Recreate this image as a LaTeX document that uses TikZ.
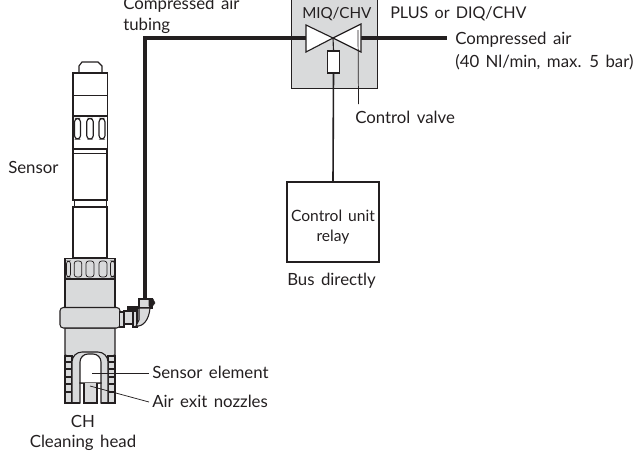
\documentclass[tikz,border=0pt]{standalone}
\usepackage{fontspec}
\setmainfont[WordSpace=1.5]{Lato}
\definecolor{boxgray}{HTML}{D9DADB}
\definecolor{linek}{HTML}{231F20}
\tikzset{
  px/.style={x=0.75pt,y=-0.75pt,line join=miter},
  lab/.style={inner sep=0pt,anchor=base west,font=\fontsize{12.6}{15}\selectfont,text=linek},
  caps lab/.style={lab,font=\fontsize{12.1}{15}\selectfont},
  clab/.style={lab,anchor=base},
  thin line/.style={draw=linek,line width=0.55pt},
  med line/.style={draw=linek,line width=0.85pt},
  pipe/.style={draw=linek,line width=2.4pt},
  gray part/.style={fill=boxgray,draw=linek,line width=0.8pt},
}
\begin{document}
\begin{tikzpicture}[px]
\useasboundingbox (0,0) rectangle (639,454);
\clip (0,0) rectangle (639,454);
% control box
\node[draw=linek,fill=boxgray,line width=0.85pt,minimum width=64.5pt,minimum height=68pt,inner sep=0pt,anchor=north west] (box) at (291,-3) {};
% coordinates
\coordinate (vc) at (333,38);
\coordinate (airend) at (447,38);
\coordinate (vr) at (361,38);
\coordinate (vl) at (306,38);
\coordinate (tubetop) at (145,38);
\coordinate (tubeend) at (145,299);
% pipes
\draw[pipe,line cap=butt] (vl) -- (tubetop) -- (tubeend);
\draw[pipe] (vr) -- (airend);
% valve
\draw[med line,fill=white] (306,25) -- (vc) -- (306,52) -- cycle;
\draw[med line,fill=white] (361,24) -- (vc) -- (361,52) -- cycle;
\node[draw=linek,fill=white,line width=0.85pt,minimum width=9.6pt,minimum height=16.5pt,inner sep=0pt] (sol) at (333.5,62) {};
\draw[med line] (vc) -- (sol.north);
% control unit
\node[draw=linek,line width=0.85pt,minimum width=69pt,minimum height=60pt,inner sep=0pt,align=center,font=\fontsize{11.7}{15}\selectfont,text=linek] (cu) at (333,222) {\rule{0pt}{15.5pt}Control unit\\relay};
\draw[draw=linek,line width=1.2pt] (sol.south) -- (cu.north);
% leader control valve
\coordinate (cvt) at (358,30);
\node[lab] (cvl) at (355,123) {Control valve};
\draw[thin line] (cvt) -- (358.5,104);
% top labels
\node[lab] (ca) at (123,9) {Compressed air};
\node[lab] (tub) at (123,30) {tubing};
\node[lab,font=\fontsize{11.4}{15}\selectfont] (miq) at (302,18) {MIQ/CHV};
\node[caps lab] (plus) at (390,18) {PLUS or DIQ/CHV};
\node[lab] (air1) at (455,44) {Compressed air};
\node[lab] (air2) at (455,67) {(40 Nl/min, max. 5 bar)};
\node[lab] (bus) at (287,285) {Bus directly};
\node[lab] (sen) at (8,173) {Sensor};
\node[lab] (se) at (152,378) {Sensor element};
\node[lab] (ae) at (152,407) {Air exit nozzles};
\node[clab] (ch) at (83,427) {CH};
\node[clab] (chh) at (83,447) {Cleaning head};
% sensor upper
\draw[med line,fill=white] (79,73) -- (79,66) -- (82,62) -- (98,62) -- (102,66) -- (102,73) -- cycle;
\draw[med line,fill=white] (73,73) rectangle (107.5,116);
\draw[thin line] (73,95.5) -- (107.5,95.5);
\draw[med line] (73,116) rectangle (107.5,149);
\draw[draw=linek,line width=1.1pt] (73,116.5) -- (107.5,116.5);
\foreach \x/\w in {77.5/3,90/3.3,102/3}{
  \draw[med line,rounded corners=2.5pt] (\x-\w,118.5) rectangle (\x+\w,139);
}
\draw[med line] (73,149.5) rectangle (107,153.5);
\draw[med line] (73,153.5) rectangle (107,200);
\draw[med line] (74.5,200) rectangle (106.5,207);
\draw[med line] (73,207) rectangle (107,258);
% sensor lower
\draw[gray part] (65,279) rectangle (115,308);
\draw[gray part] (65,258.5) rectangle (115,279);
\foreach \x/\w in {68.5/2,78/3.8,90/4,103/4,112.5/2}{
  \draw[thin line,rounded corners=2pt] (\x-\w,261) rectangle (\x+\w,277);
}
\draw[draw=linek,line width=1.5pt] (65,279) -- (115,279);
% lower body
\draw[gray part] (65,328) -- (65,355) -- (72,357) -- (108,357) -- (115,355) -- (115,328) -- cycle;
% legs
\foreach \xa/\xb in {65/72,108/115}{
  \draw[med line,fill=boxgray] (\xa,356) rectangle (\xb,403);
  \foreach \y in {362,369,377,384,392}{
    \draw[med line] (\xa,\y) -- (\xb,\y);
  }
}
\draw[draw=linek,fill=boxgray,line width=0.8pt] (72,403) -- (72,362) arc[start angle=180,end angle=270,radius=10] -- (98,352) arc[start angle=270,end angle=360,radius=10] -- (108,403) -- (101,403) -- (101,383) -- (80,383) -- (80,403) -- cycle;
\draw[draw=linek,fill=white,line width=0.85pt] (80,383) -- (80,362) arc[start angle=180,end angle=270,radius=8] -- (93,354) arc[start angle=270,end angle=360,radius=8] -- (101,383) -- cycle;
\draw[gray part] (84,383) -- (84,403) -- (97,403) -- (97,383);
\foreach \xa/\xb in {65/80,84/97,101/115}{
  \draw[draw=linek,line width=1.3pt] (\xa,403) -- (\xb,403);
}
% collar
\draw[gray part,rounded corners=2.5pt] (60,307.5) rectangle (120,328);
% fitting
\draw[gray part] (119.5,312) rectangle (124,327);
\draw[gray part] (124,311) rectangle (134,324);
\draw[draw=linek,fill=linek] (127,306) rectangle (137,311);
\draw[gray part] (133,311) rectangle (137,327);
\draw[gray part] (139,299) rectangle (152,308);
\draw[gray part] (139,308) -- (139,320) -- (136,326) .. controls (143,327) and (149,320) .. (150,308) -- cycle;
\draw[draw=linek,fill=linek] (149,299) -- (153,299) -- (155,303) -- (151,308) -- (149,306) -- cycle;
% leaders
\coordinate (sep) at (92,373);
\coordinate (sen2) at (149,373);
\coordinate (aep) at (90,386);
\coordinate (aen) at (149,402);
\draw[thin line] (sep) -- (sen2);
\draw[thin line] (aep) -- (aen);
\end{tikzpicture}
\end{document}
